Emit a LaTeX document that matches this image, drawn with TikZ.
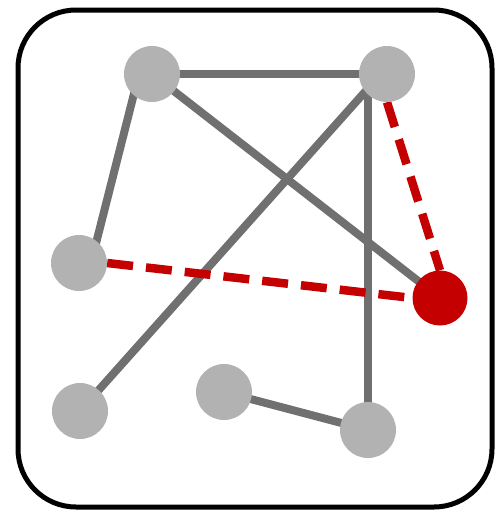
\documentclass[tikz,border=0pt]{standalone}
\usetikzlibrary{backgrounds,calc}
\definecolor{nodegray}{RGB}{178,178,178}
\definecolor{edgegray}{RGB}{112,112,112}
\definecolor{darkred}{RGB}{196,0,0}
\begin{document}
\begin{tikzpicture}[x=1pt,y=-1pt,
  vert/.style={circle,fill=nodegray,minimum size=56pt,inner sep=0pt},
  hot/.style={circle,fill=darkred,minimum size=55pt,inner sep=0pt},
  edge/.style={draw=edgegray,line width=8pt},
  redge/.style={draw=darkred,line width=8.5pt,dash pattern=on 26pt off 13pt}]
\useasboundingbox (0,0) rectangle (497,515);
\draw[line width=5pt,rounded corners=58pt] (18,10) rectangle (492,507);
\node[vert] (A) at (152,74) {};
\node[vert] (B) at (387,74) {};
\node[vert] (C) at (79,263) {};
\node[hot]  (D) at (440,298) {};
\node[vert] (E) at (80,411) {};
\node[vert] (F) at (224,392) {};
\node[vert] (G) at (368,430) {};
\coordinate (Bl) at (368,80);
\coordinate (Bd) at (372,84);
\begin{scope}[on background layer]
\draw[edge] (A.center) -- (B.center);
\draw[edge] ($(A)+(-13,0)$) -- ($(C)+(12,0)$);
\draw[edge] (A.center) -- (D.center);
\draw[edge] (Bd) -- (E.center);
\draw[edge] (Bl) -- (G.center);
\draw[edge] (F.center) -- (G.center);
\draw[redge] (B.south) -- (D.north);
\draw[redge] (C.east) -- (D.west);
\end{scope}
\end{tikzpicture}
\end{document}
